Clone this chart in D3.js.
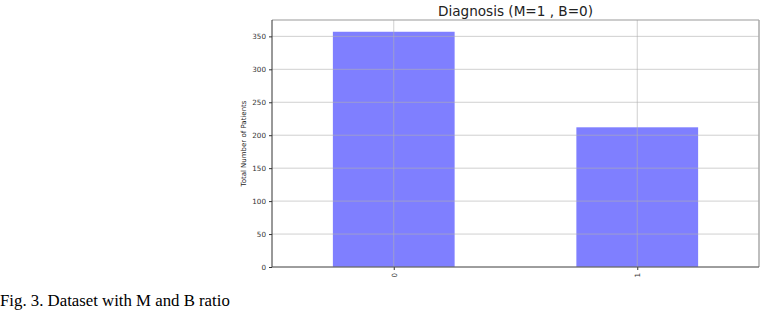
<!DOCTYPE html>
<html>
<head>
<meta charset="utf-8">
<script src="https://cdn.jsdelivr.net/npm/d3@7"></script>
<style>
  body { margin: 0; background: #fff; }
  svg { display: block; }
</style>
</head>
<body>
<div id="chart"></div>
<script>
// Data
const categories = ["0", "1"];
const counts = [357, 212];
const yTicks = [0, 50, 100, 150, 200, 250, 300, 350];

const width = 767;
const height = 316;
const margin = { top: 20, right: 8, bottom: 49, left: 272 };

const svg = d3.select("#chart")
    .append("svg")
    .attr("width", width)
    .attr("height", height);

// Scales (matplotlib style: xlim -0.5..1.5, y max = 1.05 * max)
const xScale = d3.scaleLinear()
    .domain([-0.5, categories.length - 0.5])
    .range([margin.left, width - margin.right]);

const yScale = d3.scaleLinear()
    .domain([0, d3.max(counts) * 1.05])
    .range([height - margin.bottom, margin.top]);

const barW = xScale(0.25) - xScale(0);

// Bars
svg.selectAll(".bar")
    .data(counts)
    .enter()
    .append("rect")
    .attr("x", (d, i) => xScale(i) - barW)
    .attr("y", d => yScale(d))
    .attr("width", barW * 2)
    .attr("height", d => yScale(0) - yScale(d))
    .attr("fill", "#7f7fff");

// Grid lines (drawn over the bars)
svg.append("g")
    .selectAll("line")
    .data(yTicks)
    .enter()
    .append("line")
    .attr("x1", margin.left)
    .attr("x2", width - margin.right)
    .attr("y1", d => yScale(d))
    .attr("y2", d => yScale(d))
    .attr("stroke", "#b0b0b0")
    .attr("stroke-opacity", 0.6)
    .attr("stroke-width", 1);

svg.append("g")
    .selectAll("line")
    .data(categories)
    .enter()
    .append("line")
    .attr("x1", (d, i) => xScale(i))
    .attr("x2", (d, i) => xScale(i))
    .attr("y1", margin.top)
    .attr("y2", height - margin.bottom)
    .attr("stroke", "#b0b0b0")
    .attr("stroke-opacity", 0.6)
    .attr("stroke-width", 1);

// Axes
const yAxis = d3.axisLeft(yScale)
    .tickValues(yTicks)
    .tickSize(3)
    .tickPadding(3);

const gy = svg.append("g")
    .attr("transform", `translate(${margin.left}, 0)`)
    .call(yAxis);
gy.select(".domain").remove();
gy.selectAll("text")
    .attr("font-family", "DejaVu Sans, sans-serif")
    .attr("font-size", 7.2)
    .attr("fill", "#333");
gy.selectAll("line").attr("stroke", "#333");

const xAxis = d3.axisBottom(xScale)
    .tickValues(categories.map((d, i) => i))
    .tickFormat(i => categories[i])
    .tickSize(3);

const gx = svg.append("g")
    .attr("transform", `translate(0, ${height - margin.bottom})`)
    .call(xAxis);
gx.select(".domain").remove();
gx.selectAll("line").attr("stroke", "#333");
gx.selectAll("text")
    .attr("font-family", "DejaVu Sans, sans-serif")
    .attr("font-size", 7.2)
    .attr("fill", "#333")
    .attr("transform", "rotate(-90)")
    .attr("text-anchor", "end")
    .attr("x", -6)
    .attr("y", 0)
    .attr("dy", "0.32em");

// Frame (spines)
const x0 = margin.left, x1 = width - margin.right;
const y0 = margin.top, y1 = height - margin.bottom;
svg.append("line").attr("x1", x0).attr("x2", x1).attr("y1", y0).attr("y2", y0)
    .attr("stroke", "#999").attr("stroke-width", 1);
svg.append("line").attr("x1", x1).attr("x2", x1).attr("y1", y0).attr("y2", y1)
    .attr("stroke", "#aaa").attr("stroke-width", 1.5);
svg.append("line").attr("x1", x0).attr("x2", x0).attr("y1", y0).attr("y2", y1)
    .attr("stroke", "#333").attr("stroke-width", 1);
svg.append("line").attr("x1", x0).attr("x2", x1).attr("y1", y1).attr("y2", y1)
    .attr("stroke", "#555").attr("stroke-width", 1);

// Title
svg.append("text")
    .attr("x", (x0 + x1) / 2)
    .attr("y", 16)
    .attr("text-anchor", "middle")
    .attr("font-family", "DejaVu Sans, sans-serif")
    .attr("font-size", 13.6)
    .attr("fill", "#222")
    .text("Diagnosis (M=1 , B=0)");

// Y-axis label
svg.append("text")
    .attr("transform", "rotate(-90)")
    .attr("x", -((y0 + y1) / 2))
    .attr("y", 246)
    .attr("text-anchor", "middle")
    .attr("font-family", "DejaVu Sans, sans-serif")
    .attr("font-size", 7)
    .attr("fill", "#222")
    .text("Total Number of Patients");

// Caption
svg.append("text")
    .attr("x", 0)
    .attr("y", 306)
    .attr("font-family", "Liberation Serif, Times New Roman, serif")
    .attr("font-size", 16.8)
    .attr("fill", "#000")
    .text("Fig. 3. Dataset with M and B ratio");
</script>
</body>
</html>
